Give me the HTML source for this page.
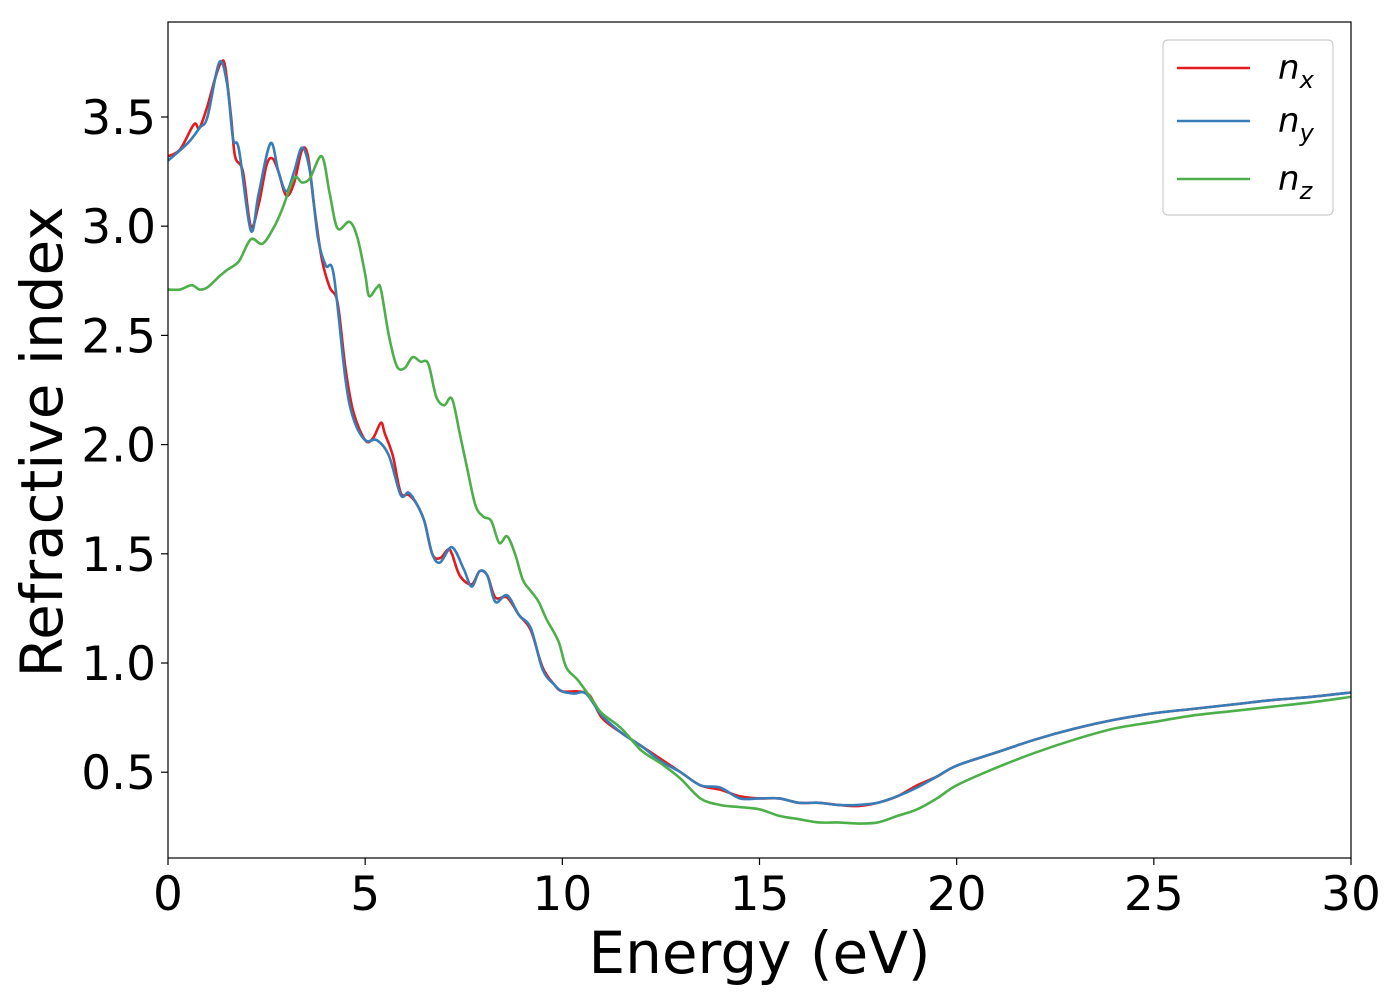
<!DOCTYPE html>
<html><head><meta charset="utf-8"><style>
body{margin:0;background:#fff;}
svg text{font-family:"DejaVu Sans","Liberation Sans",sans-serif;}
</style></head><body>
<svg width="1400" height="1000" xmlns="http://www.w3.org/2000/svg">
<g id="plot"></g>
</svg>
<script>
const energyX = [0,0.3,0.6,0.7,0.8,1.0,1.2,1.35,1.45,1.6,1.7,1.9,2.1,2.3,2.5,2.65,2.8,3.0,3.2,3.4,3.55,3.7,3.9,4.1,4.3,4.5,4.7,5.0,5.2,5.4,5.5,5.7,5.9,6.1,6.3,6.5,6.7,6.9,7.1,7.2,7.4,7.7,7.9,8.1,8.3,8.6,8.9,9.2,9.5,9.8,10.0,10.4,10.7,11.0,11.5,12.0,12.5,13.0,13.5,14.0,14.5,15.0,15.5,16.0,16.5,17.0,17.5,18.0,18.5,19.0,19.5,20,21,22,23,24,25,26,27,28,29,30];
const nx = [3.32,3.35,3.45,3.47,3.45,3.55,3.68,3.75,3.73,3.5,3.32,3.25,3.0,3.1,3.28,3.31,3.25,3.14,3.2,3.35,3.32,3.1,2.85,2.72,2.65,2.35,2.15,2.02,2.03,2.1,2.05,1.95,1.78,1.77,1.73,1.65,1.5,1.48,1.52,1.5,1.4,1.36,1.42,1.4,1.3,1.3,1.22,1.15,0.98,0.9,0.87,0.87,0.85,0.75,0.68,0.62,0.56,0.5,0.44,0.42,0.39,0.38,0.38,0.36,0.36,0.35,0.345,0.36,0.39,0.44,0.48,0.53,0.59,0.65,0.70,0.74,0.77,0.79,0.81,0.83,0.845,0.865];
const energyY = [0,0.5,0.8,1.0,1.3,1.5,1.65,1.8,2.1,2.3,2.6,2.8,3.0,3.2,3.4,3.6,3.8,4.0,4.2,4.5,4.7,5.0,5.3,5.6,5.9,6.1,6.3,6.5,6.7,6.9,7.2,7.5,7.7,7.9,8.1,8.3,8.6,8.9,9.2,9.5,9.8,10.0,10.3,10.6,11,11.5,12,12.5,13,13.5,14,14.5,15,15.5,16,16.5,17,17.5,18,18.5,19,19.5,20,21,22,23,24,25,26,27,28,29,30];
const ny = [3.3,3.38,3.45,3.5,3.75,3.65,3.4,3.35,2.98,3.15,3.38,3.25,3.16,3.25,3.36,3.25,2.95,2.82,2.78,2.3,2.12,2.02,2.02,1.95,1.77,1.78,1.73,1.65,1.5,1.46,1.53,1.43,1.35,1.42,1.4,1.28,1.31,1.22,1.16,0.97,0.9,0.87,0.86,0.86,0.76,0.68,0.62,0.55,0.5,0.44,0.43,0.38,0.38,0.38,0.36,0.36,0.35,0.35,0.36,0.39,0.43,0.48,0.53,0.59,0.65,0.70,0.74,0.77,0.79,0.81,0.83,0.845,0.865];
const energyZ = [0,0.3,0.6,0.8,1.0,1.3,1.5,1.8,2.1,2.4,2.7,2.9,3.2,3.4,3.6,3.9,4.1,4.3,4.6,4.8,5.0,5.1,5.3,5.4,5.6,5.8,6.0,6.2,6.4,6.6,6.8,7.0,7.2,7.4,7.6,7.8,8.0,8.2,8.4,8.6,8.8,9.0,9.2,9.4,9.6,9.9,10.1,10.4,10.8,11,11.5,12,12.5,13,13.5,14,14.5,15,15.5,16,16.5,17,17.5,18,18.5,19,19.5,20,21,22,23,24,25,26,27,28,29,30];
const nz = [2.71,2.71,2.73,2.71,2.72,2.77,2.8,2.84,2.94,2.92,3.0,3.08,3.22,3.2,3.22,3.32,3.15,2.99,3.02,2.95,2.78,2.68,2.72,2.71,2.5,2.36,2.35,2.4,2.38,2.37,2.22,2.18,2.21,2.05,1.88,1.72,1.67,1.65,1.55,1.58,1.5,1.38,1.33,1.28,1.2,1.1,0.98,0.92,0.82,0.77,0.7,0.6,0.54,0.47,0.38,0.35,0.34,0.33,0.3,0.285,0.27,0.27,0.265,0.27,0.3,0.33,0.38,0.44,0.52,0.59,0.65,0.7,0.73,0.76,0.78,0.80,0.82,0.845];
const xTicks = [0,5,10,15,20,25,30];
const yTicks = [0.5,1.0,1.5,2.0,2.5,3.0,3.5];
const yTickLabels = ["0.5","1.0","1.5","2.0","2.5","3.0","3.5"];

const L=168,R=1351,T=22,B=858;
const xs = e => L + (e-0)/(30-0)*(R-L);
const ys = v => 117 + (3.5-v)*218.4;
const NS="http://www.w3.org/2000/svg";
const g=document.getElementById('plot');
function mk(tag,attrs,parent){const el=document.createElementNS(NS,tag);for(const k in attrs)el.setAttribute(k,attrs[k]);(parent||g).appendChild(el);return el;}

function smoothPath(X,Y){
  const p=X.map((x,i)=>[xs(x),ys(Y[i])]);
  let d=`M${p[0][0]},${p[0][1]}`;
  for(let i=0;i<p.length-1;i++){
    const p0=p[Math.max(0,i-1)],p1=p[i],p2=p[i+1],p3=p[Math.min(p.length-1,i+2)];
    const c1=[p1[0]+(p2[0]-p0[0])/6,p1[1]+(p2[1]-p0[1])/6];
    const c2=[p2[0]-(p3[0]-p1[0])/6,p2[1]-(p3[1]-p1[1])/6];
    d+=` C${c1[0]},${c1[1]} ${c2[0]},${c2[1]} ${p2[0]},${p2[1]}`;
  }
  return d;
}
const clip=mk('clipPath',{id:'c'});mk('rect',{x:L,y:T,width:R-L,height:B-T},clip);

const lx=mk('path',{d:smoothPath(energyX,nx),fill:'none',stroke:'#e41a1c','stroke-width':2.6,'clip-path':'url(#c)'});


const ly=mk('path',{d:smoothPath(energyY,ny),fill:'none',stroke:'#377eb8','stroke-width':2.6,'clip-path':'url(#c)'});


const lz=mk('path',{d:smoothPath(energyZ,nz),fill:'none',stroke:'#4daf4a','stroke-width':2.6,'clip-path':'url(#c)'});



const frame=mk('rect',{x:L,y:T,width:R-L,height:B-T,fill:'none',stroke:'#000','stroke-width':1.2});



xTicks.forEach(t=>{
  const tk=mk('line',{x1:xs(t),x2:xs(t),y1:B,y2:B+7,stroke:'#000','stroke-width':1.2});
  
  
  const tx=mk('text',{x:xs(t),y:B+52,'font-size':47,'text-anchor':'middle'});
  tx.textContent=String(t);
  
  
});
yTicks.forEach((t,i)=>{
  const tk=mk('line',{x1:L-7,x2:L,y1:ys(t),y2:ys(t),stroke:'#000','stroke-width':1.2});
  
  
  const tx=mk('text',{x:L-12,y:ys(t)+17,'font-size':47,'text-anchor':'end'});
  tx.textContent=yTickLabels[i];
  
  
});
const xt=mk('text',{x:(L+R)/2,y:973,'font-size':58,'text-anchor':'middle'});
xt.textContent='Energy (eV)';


const yt=mk('text',{x:0,y:0,'font-size':58,'text-anchor':'middle',transform:`translate(62,${(T+B)/2+2}) rotate(-90)`});
yt.textContent='Refractive index';



const leg=mk('g',{});


mk('rect',{x:1163,y:40,width:170,height:175,rx:5,fill:'#fff',stroke:'#ccc','stroke-width':1.2},leg);
const legItems=[['x','#e41a1c',68],['y','#377eb8',121],['z','#4daf4a',179]];
legItems.forEach(([s,c,y])=>{
  const e=mk('g',{},leg);
  
  
  mk('line',{x1:1177,x2:1250,y1:y,y2:y,stroke:c,'stroke-width':2.6},e);
  const t=mk('text',{x:1278,y:y+11,'font-size':34,'font-style':'italic'},e);
  t.textContent='n';
  const sub=mk('tspan',{dy:9,'font-size':24},t);
  sub.textContent=s;
});
</script>
</body></html>
